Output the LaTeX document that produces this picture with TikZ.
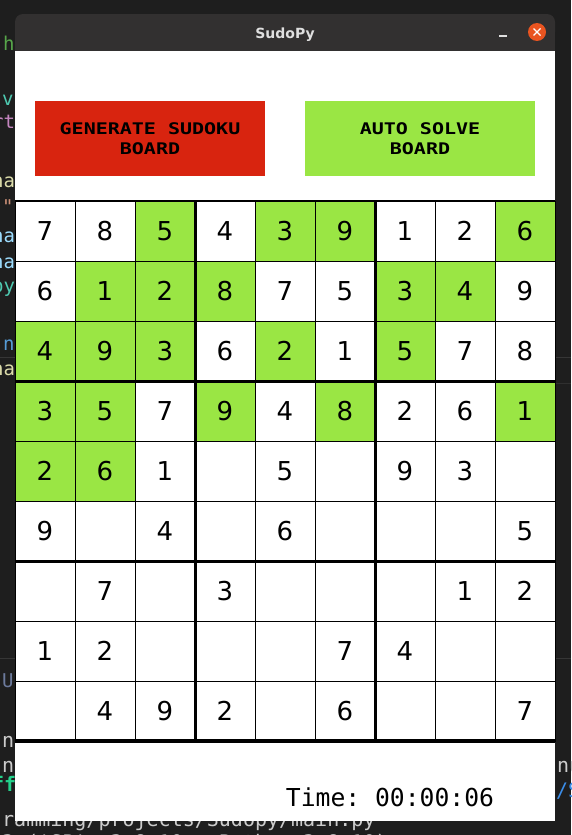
\documentclass[tikz,border=0pt]{standalone}
\usepackage{graphicx}
\usepackage{fontspec}
\newfontfamily\cellfont{DejaVu Sans}
\newfontfamily\monofont{DejaVu Sans Mono}
\definecolor{sgreen}{HTML}{9AE644}
\definecolor{sred}{HTML}{D8240F}
\definecolor{bgdark}{HTML}{1E1E1E}
\definecolor{titlebar}{HTML}{323030}
\definecolor{closeorange}{HTML}{E95420}
\definecolor{titletext}{HTML}{DFDFDF}
\definecolor{sepline}{HTML}{363636}
\definecolor{cgreen}{HTML}{57A64A}
\definecolor{cteal}{HTML}{4EC9B0}
\definecolor{cpurple}{HTML}{C586C0}
\definecolor{cyellow}{HTML}{DCDCAA}
\definecolor{corange}{HTML}{CE9178}
\definecolor{clblue}{HTML}{9CDCFE}
\definecolor{cblue}{HTML}{569CD6}
\definecolor{cdim}{HTML}{6C7A9C}
\definecolor{cgray}{HTML}{CCCCCC}
\definecolor{cbright}{HTML}{23D18B}
\definecolor{clink}{HTML}{3B8EEA}
\newcommand{\wide}[1]{\scalebox{1.25}[1]{#1}}
\begin{document}
\begin{tikzpicture}[x=1pt,y=-1pt,
  cellbox/.style={draw=black, line width=1pt, minimum size=60pt, inner sep=0pt, outer sep=0pt,
    font=\cellfont\fontsize{26}{26}\selectfont, text=black},
  g0/.style={fill=white},
  g1/.style={fill=sgreen},
  thickline/.style={line width=3pt},
  btn/.style={minimum width=230pt, minimum height=75pt, inner sep=0pt, outer sep=0pt, align=center,
    font=\monofont\bfseries\fontsize{16}{20}\selectfont, text=black},
  bgtext/.style={anchor=base west, inner sep=0pt, font=\monofont\fontsize{19}{19}\selectfont},
  termtext/.style={anchor=base west, inner sep=0pt, font=\monofont\fontsize{20}{20}\selectfont}
]
\useasboundingbox (0,0) rectangle (571,835);
\clip (0,0) rectangle (571,835);
\fill[bgdark] (0,0) rectangle (571,835);
% background editor / terminal fragments
\draw[sepline, line width=1pt] (0,357) -- (571,357);
\draw[sepline!70!bgdark, line width=1pt] (555,383) -- (571,383);
\draw[sepline, line width=1pt] (0,658) -- (571,658);
\node[bgtext, text=cgreen] (bh) at (3,50) {h};
\node[bgtext, text=cteal] (bv) at (2,105) {v};
\node[bgtext, text=cpurple] (brt) at (-8,128) {rt};
\node[bgtext, text=cyellow] (bna1) at (-8,187) {na};
\node[bgtext, text=corange] (bq) at (2,213) {"};
\node[bgtext, text=clblue] (ba1) at (-8,242) {na};
\node[bgtext, text=clblue] (ba2) at (-8,268) {na};
\node[bgtext, text=cteal] (bpy) at (-8,292) {py};
\node[bgtext, text=cblue] (bn) at (3,350) {n};
\node[bgtext, text=cyellow] (bna2) at (-8,375) {na};
\node[bgtext, text=cdim] (bu) at (2,687) {U};
\node[termtext, text=cgray] (tn1) at (2,747) {n};
\node[termtext, text=cgray] (tn2) at (2,772) {n};
\node[termtext, text=cbright, font=\monofont\bfseries\fontsize{20}{20}\selectfont] (tf) at (-8,791) {ff};
\node[termtext, text=cgray] (tpath) at (2,826) {ramming/projects/Sudopy/main.py};
\node[termtext, text=cgray] (tver) at (2,849) {3 ('SP': 3.8.10 - Python 3.8.10)};
\node[termtext, text=cgray] (tnu) at (557,772) {nu};
\node[termtext, text=clink] (tls) at (556,797) {/S};
% window
\fill[titlebar, rounded corners=8pt] (15,14) rectangle (555,40);
\fill[titlebar] (15,30) rectangle (555,51);
\fill[white] (15,51) rectangle (555,821);
\node[anchor=base, inner sep=0pt, text=titletext, font=\cellfont\bfseries\fontsize{14}{14}\selectfont] (title) at (285,38.5) {SudoPy};
\draw[titletext, line width=1.4pt] (499,36) -- (507,36);
\fill[closeorange] (537,32) circle (9);
\draw[white, line width=1.3pt] (533.5,28.5) -- (540.5,35.5);
\draw[white, line width=1.3pt] (533.5,35.5) -- (540.5,28.5);
% buttons
\node[btn, fill=sred] (gen) at (150,138.5) {\wide{GENERATE SUDOKU}\\\wide{BOARD}};
\node[btn, fill=sgreen] (solve) at (420,138.5) {\wide{AUTO SOLVE}\\\wide{BOARD}};
% board
\foreach \rowdata [count=\r] in {
  {7/0,8/0,5/1,4/0,3/1,9/1,1/0,2/0,6/1},
  {6/0,1/1,2/1,8/1,7/0,5/0,3/1,4/1,9/0},
  {4/1,9/1,3/1,6/0,2/1,1/0,5/1,7/0,8/0},
  {3/1,5/1,7/0,9/1,4/0,8/1,2/0,6/0,1/1},
  {2/1,6/1,1/0,0/0,5/0,0/0,9/0,3/0,0/0},
  {9/0,0/0,4/0,0/0,6/0,0/0,0/0,0/0,5/0},
  {0/0,7/0,0/0,3/0,0/0,0/0,0/0,1/0,2/0},
  {1/0,2/0,0/0,0/0,0/0,7/0,4/0,0/0,0/0},
  {0/0,4/0,9/0,2/0,0/0,6/0,0/0,0/0,7/0}}{
  \foreach \d/\g [count=\c] in \rowdata {
    \node[cellbox, g\g] (c\r-\c) at ({60*\c-15},{60*\r+171}) {\ifnum\d>0 \d\fi};
  }
}
\draw[line width=1.5pt] (c1-1.north west) -- (c1-9.north east);
\draw[thickline] (c1-4.north west) -- (c9-4.south west);
\draw[thickline] (c1-7.north west) -- (c9-7.south west);
\draw[thickline] (c4-1.north west) -- (c4-9.north east);
\draw[thickline] (c7-1.north west) -- (c7-9.north east);
\draw[line width=4pt] (c9-1.south west) -- (c9-9.south east);
% timer
\node[anchor=base, inner sep=0pt, text=black, font=\monofont\frenchspacing\fontsize{24.7}{24.7}\selectfont] (timer) at (390,806) {Time: 00:00:06};
\end{tikzpicture}
\end{document}
